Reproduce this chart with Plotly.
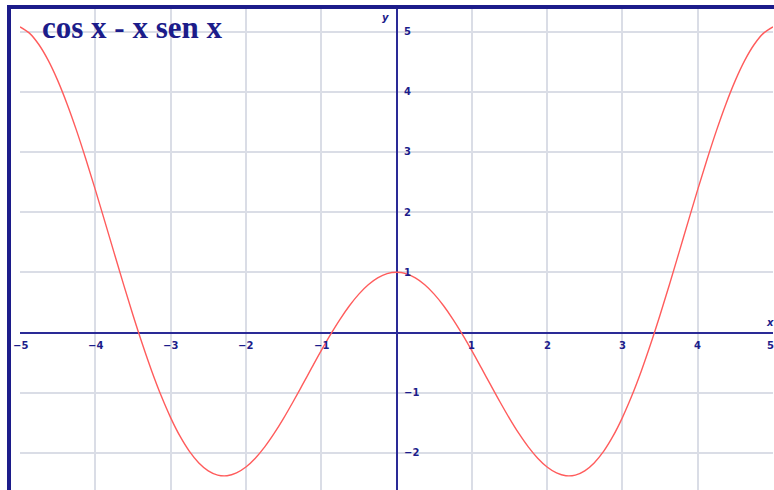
import plotly.graph_objects as go

# Sampled values of f(x) = cos x - x sen x on [-5, 5], step 0.125
x_vals = [-5.0, -4.875, -4.75, -4.625, -4.5, -4.375, -4.25, -4.125, -4.0,
          -3.875, -3.75, -3.625, -3.5, -3.375, -3.25, -3.125, -3.0,
          -2.875, -2.75, -2.625, -2.5, -2.375, -2.25, -2.125, -2.0,
          -1.875, -1.75, -1.625, -1.5, -1.375, -1.25, -1.125, -1.0,
          -0.875, -0.75, -0.625, -0.5, -0.375, -0.25, -0.125, 0.0,
          0.125, 0.25, 0.375, 0.5, 0.625, 0.75, 0.875, 1.0,
          1.125, 1.25, 1.375, 1.5, 1.625, 1.75, 1.875, 2.0,
          2.125, 2.25, 2.375, 2.5, 2.625, 2.75, 2.875, 3.0,
          3.125, 3.25, 3.375, 3.5, 3.625, 3.75, 3.875, 4.0,
          4.125, 4.25, 4.375, 4.5, 4.625, 4.75, 4.875, 5.0]
y_vals = [5.078, 4.973, 4.784, 4.520, 4.188, 3.797, 3.358, 2.879, 2.374,
          1.851, 1.323, 0.799, 0.291, -0.192, -0.643, -1.052, -1.413,
          -1.722, -1.974, -2.166, -2.297, -2.368, -2.379, -2.333, -2.235,
          -2.088, -1.900, -1.677, -1.426, -1.154, -0.871, -0.584, -0.301,
          -0.031, 0.220, 0.445, 0.638, 0.793, 0.907, 0.977, 1.0,
          0.977, 0.907, 0.793, 0.638, 0.445, 0.220, -0.031, -0.301,
          -0.584, -0.871, -1.154, -1.426, -1.677, -1.900, -2.088, -2.235,
          -2.333, -2.379, -2.368, -2.297, -2.166, -1.974, -1.722, -1.413,
          -1.052, -0.643, -0.192, 0.291, 0.799, 1.323, 1.851, 2.374,
          2.879, 3.358, 3.797, 4.188, 4.520, 4.784, 4.973, 5.078]

x_ticks = [-5, -4, -3, -2, -1, 1, 2, 3, 4, 5]
x_tick_text = ["\u22125", "\u22124", "\u22123", "\u22122", "\u22121", "1", "2", "3", "4", "5"]
y_ticks = [-2, -1, 1, 2, 3, 4, 5]
y_tick_text = ["\u22122", "\u22121", "1", "2", "3", "4", "5"]

title_text = "cos x - x sen x"

NAVY = "#1c1c8a"
GRID = "#dadde6"
label_font = dict(family="DejaVu Sans", size=10, color=NAVY)

fig = go.Figure()
fig.add_trace(go.Scatter(
    x=x_vals, y=y_vals, mode="lines",
    line=dict(color="#ff5c5c", width=1.4, shape="spline", smoothing=1.0),
    hoverinfo="skip", showlegend=False,
))

annotations = []
for xv, txt in zip(x_ticks, x_tick_text):
    last = xv == x_ticks[-1]
    annotations.append(dict(x=xv, y=0, xref="x", yref="y", text="<b>%s</b>" % txt,
                            showarrow=False, yshift=-13,
                            xanchor="right" if last else "center",
                            xshift=3 if last else 0,
                            yanchor="middle", font=label_font))
for yv, txt in zip(y_ticks, y_tick_text):
    annotations.append(dict(x=0, y=yv, xref="x", yref="y", text="<b>%s</b>" % txt,
                            showarrow=False, xshift=5, xanchor="left",
                            yanchor="middle", font=label_font))
# axis names
annotations.append(dict(x=-0.15, y=5.24, xref="x", yref="y", text="<b><i>y</i></b>",
                        showarrow=False, font=label_font))
annotations.append(dict(x=4.96, y=0.17, xref="x", yref="y", text="<b><i>x</i></b>",
                        showarrow=False, font=label_font))
# title
annotations.append(dict(x=-4.74, y=5.07, xref="x", yref="y",
                        text="<b>%s</b>" % title_text, showarrow=False,
                        xanchor="left", yanchor="middle",
                        font=dict(family="Liberation Serif", size=31, color=NAVY)))

W, H = 774, 490
shapes = [
    # frame: top and left edges
    dict(type="rect", xref="paper", yref="paper",
         x0=-13 / 753, x1=1.01, y0=(490 - 9) / 481, y1=(490 - 5) / 481,
         line=dict(width=0), fillcolor=NAVY, layer="above"),
    dict(type="rect", xref="paper", yref="paper",
         x0=-13 / 753, x1=-9 / 753, y0=-0.01, y1=(490 - 5) / 481,
         line=dict(width=0), fillcolor=NAVY, layer="above"),
]

fig.update_layout(
    width=W, height=H,
    margin=dict(l=20, r=1, t=9, b=0),
    paper_bgcolor="white", plot_bgcolor="white",
    showlegend=False,
    annotations=annotations,
    shapes=shapes,
    xaxis=dict(range=[-5, 5], dtick=1, tick0=0, showgrid=True, gridcolor=GRID,
               gridwidth=2, zeroline=True, zerolinecolor="#2a2a96", zerolinewidth=1.5,
               showticklabels=False, ticks="", fixedrange=True),
    yaxis=dict(range=[-2.616, 5.374], dtick=1, tick0=0, showgrid=True, gridcolor=GRID,
               gridwidth=2, zeroline=True, zerolinecolor="#2a2a96", zerolinewidth=1.5,
               showticklabels=False, ticks="", fixedrange=True),
)

fig.write_html("out.html")
